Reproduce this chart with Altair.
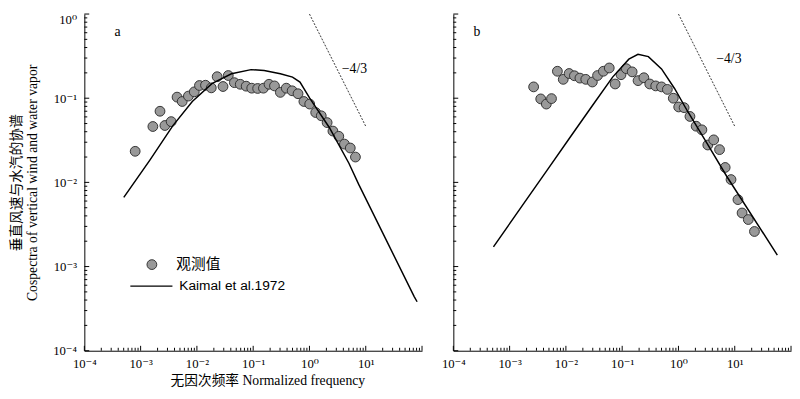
import altair as alt
import pandas as pd

# ---------------- data ----------------
# Panel a: observed cospectrum
a_freq = [8.0e-4, 1.65e-3, 2.21e-3, 2.70e-3, 3.49e-3, 4.44e-3, 5.48e-3, 7.06e-3, 8.97e-3,
          0.0111, 0.0142, 0.0180, 0.0229, 0.0291, 0.0361, 0.0463, 0.0589, 0.0750, 0.0942,
          0.120, 0.152, 0.191, 0.239, 0.304, 0.387, 0.492, 0.626, 0.796, 1.01, 1.29, 1.62,
          2.06, 2.61, 3.32, 4.18, 5.31, 6.56]
a_co = [0.0234, 0.0461, 0.0700, 0.0474, 0.0527, 0.103, 0.0914, 0.106, 0.119,
        0.1415, 0.1426, 0.1327, 0.180, 0.1377, 0.186, 0.153, 0.1464, 0.139, 0.1316,
        0.1305, 0.1316, 0.1464, 0.140, 0.1173, 0.1316, 0.1225, 0.113, 0.0914, 0.0852, 0.0676, 0.0618,
        0.0513, 0.0407, 0.0353, 0.0285, 0.0256, 0.0200]
# Panel a: Kaimal et al. 1972 curve
a_kx = [5.02e-4, 1.46e-3, 3.72e-3, 8.28e-3, 0.01845, 0.0411, 0.0917, 0.1567, 0.304, 0.500,
        0.678, 1.01, 2.25, 5.02, 7.50, 72.6, 81.8]
a_ky = [6.64e-3, 0.0184, 0.0469, 0.0914, 0.149, 0.195, 0.2186, 0.213, 0.195, 0.178,
        0.1557, 0.100, 0.0449, 0.01687, 9.46e-3, 4.40e-4, 3.82e-4]

# Panel b: observed cospectrum
b_freq = [2.67e-3, 3.57e-3, 4.49e-3, 5.55e-3, 7.06e-3, 8.97e-3, 0.0114, 0.01416, 0.01774,
          0.02254, 0.0295, 0.0365, 0.0463, 0.0589, 0.0750, 0.0953, 0.1183, 0.1503, 0.1914,
          0.243, 0.309, 0.394, 0.500, 0.635, 0.809, 1.01, 1.26, 1.60, 2.06, 2.61, 3.32,
          4.23, 5.37, 6.76, 8.59, 11.4, 13.5, 17.4, 22.4]
b_co = [0.1363, 0.0981, 0.0852, 0.0989, 0.209, 0.1675, 0.1965, 0.1848, 0.1733,
        0.1675, 0.1557, 0.186, 0.209, 0.2287, 0.1476, 0.190, 0.2244, 0.2056, 0.1617,
        0.175, 0.1476, 0.140, 0.1363, 0.1272, 0.100, 0.0787, 0.0772, 0.0607, 0.0465, 0.0421, 0.0278,
        0.0320, 0.0245, 0.01504, 0.0108, 6.24e-3, 4.33e-3, 3.62e-3, 2.61e-3]
# Panel b: Kaimal et al. 1972 curve
b_kx = [5.16e-4, 1.84e-3, 4.68e-3, 0.01189, 0.0303, 0.0676, 0.1313, 0.191, 0.292, 0.500,
        0.851, 1.45, 3.24, 7.19, 57.1]
b_ky = [1.71e-3, 5.80e-3, 0.0141, 0.0344, 0.0836, 0.178, 0.291, 0.332, 0.312, 0.223,
        0.1305, 0.070, 0.0288, 0.01183, 1.37e-3]

# -4/3 reference slope line and its label
slope_x = [1.0, 10.0]
slope_y = [1.0, 0.0464]
slope_label = "\u22124/3"
a_label_pos = [6.3, 0.223]
b_label_pos = [7.87, 0.29]

panel_letters = ["a", "b"]
legend_labels = ["观测值", "Kaimal et al.1972"]
y_title = ["垂直风速与水汽的协谱", "Cospectra of vertical wind and water vapor"]
x_title = "无因次频率 Normalized frequency"

# decades labelled on each axis
x_exps = [-4, -3, -2, -1, 0, 1]
y_exps = [-4, -3, -2, -1, 0]

# ---------------- styling ----------------
SERIF = "'Liberation Serif', 'DejaVu Serif'"
CJK = "'Liberation Serif', 'Noto Sans CJK SC'"
W, H = 345, 344
MAJ, MIN = 5, 3

sup = {-4: "⁻⁴", -3: "⁻³", -2: "⁻²", -1: "⁻¹", 0: "⁰", 1: "¹"}


def label_expr(exps):
    s = ""
    for k in exps:
        v = 10.0 ** k
        s += f"abs(datum.value - {v}) < {v * 1e-6} ? '10{sup[k]}' : "
    return s + "''"


x_major = [10.0 ** k for k in range(-4, 3)]
x_minor = [m * 10.0 ** k for k in range(-4, 2) for m in range(2, 10)]
y_major = [10.0 ** k for k in range(-4, 1)]
y_minor = [m * 10.0 ** k for k in range(-4, 0) for m in range(2, 10)]

common_axis = dict(
    grid=False, domainColor="black", domainWidth=1, ticks=False,
    labelFont=SERIF, labelFontSize=13, labelColor="black",
    labelFlush=False, labelOverlap=False,
)


def x_axis(with_title):
    kw = dict(common_axis)
    kw.update(values=[10.0 ** k for k in x_exps], labelExpr=label_expr(x_exps), labelPadding=7)
    if with_title:
        kw.update(title=x_title, titleFont=CJK, titleFontSize=14, titleFontWeight="normal",
                  titleColor="black", titleX=187, titleY=31, titleBaseline="middle",
                  titleAlign="center")
    else:
        kw.update(title=None)
    return alt.Axis(**kw)


def y_axis(with_labels):
    kw = dict(common_axis)
    kw.update(values=[10.0 ** k for k in y_exps], labelPadding=8,
              labelBaseline={"condition": {"test": "datum.value > 0.5", "value": "top"},
                             "value": "middle"})
    if with_labels:
        kw.update(labelExpr=label_expr(y_exps), title=y_title, titleFont=CJK, titleFontSize=14,
                  titleFontWeight="normal", titleColor="black", titleX=-76, titleY=H / 2,
                  titleBaseline="top", titleAlign="center", titleAngle=-90, titleLineHeight=16)
    else:
        kw.update(labels=False, title=None)
    return alt.Axis(**kw)


def panel(fx, fy, kx, ky, lab_pos, letter, first):
    xs = alt.Scale(type="log", domain=[1e-4, 100])
    ys = alt.Scale(type="log", domain=[1e-4, 1])
    X = alt.X("f:Q", scale=xs, axis=x_axis(first))
    Y = alt.Y("c:Q", scale=ys, axis=y_axis(first))

    obs = alt.Chart(pd.DataFrame({"f": fx, "c": fy})).mark_circle(
        size=100, color="#999999", stroke="#333333", strokeWidth=1, opacity=1
    ).encode(x=X, y=Y)
    curve = alt.Chart(pd.DataFrame({"f": kx, "c": ky})).mark_line(
        color="black", strokeWidth=1.5
    ).encode(x=X, y=Y)
    slope = alt.Chart(pd.DataFrame({"f": slope_x, "c": slope_y})).mark_line(
        color="black", strokeWidth=0.8, strokeDash=[2, 1.5]
    ).encode(x=X, y=Y)
    slab = alt.Chart(pd.DataFrame({"f": [lab_pos[0]], "c": [lab_pos[1]], "t": [slope_label]})).mark_text(
        font=SERIF, fontSize=14, color="black", align="center", baseline="middle"
    ).encode(x=X, y=Y, text="t:N")
    let = alt.Chart(pd.DataFrame({"t": [letter]})).mark_text(
        font=SERIF, fontSize=14, color="black", align="center", baseline="middle"
    ).encode(x=alt.value(34 if first else 24), y=alt.value(18), text="t:N")

    # inward tick marks placed through the same log scales
    def xticks(vals, ln):
        return alt.Chart(pd.DataFrame({"f": vals})).mark_rule(color="black", strokeWidth=1).encode(
            x=X, y=alt.value(H), y2=alt.value(H - ln))

    def yticks(vals, ln):
        return alt.Chart(pd.DataFrame({"c": vals})).mark_rule(color="black", strokeWidth=1).encode(
            y=Y, x=alt.value(0), x2=alt.value(ln))

    ticks = [xticks(x_major, MAJ), xticks(x_minor, MIN), yticks(y_major, MAJ), yticks(y_minor, MIN)]

    layers = [obs, slope, slab, let, curve] + ticks
    if first:
        leg_pt = alt.Chart(pd.DataFrame({"k": [0]})).mark_circle(
            size=100, color="#999999", stroke="#333333", strokeWidth=1, opacity=1
        ).encode(x=alt.value(69), y=alt.value(256))
        leg_t1 = alt.Chart(pd.DataFrame({"t": [legend_labels[0]]})).mark_text(
            font="'Noto Sans CJK SC'", fontSize=15, color="black", align="left", baseline="middle"
        ).encode(x=alt.value(94), y=alt.value(256), text="t:N")
        leg_ln = alt.Chart(pd.DataFrame({"k": [0]})).mark_rule(
            color="black", strokeWidth=1.2
        ).encode(x=alt.value(47), x2=alt.value(90), y=alt.value(278))
        leg_t2 = alt.Chart(pd.DataFrame({"t": [legend_labels[1]]})).mark_text(
            font="'Liberation Sans'", fontSize=14, color="black", align="left", baseline="middle"
        ).encode(x=alt.value(97), y=alt.value(278), text="t:N")
        layers += [leg_pt, leg_t1, leg_ln, leg_t2]
    return alt.layer(*layers).properties(width=W, height=H)


pa = panel(a_freq, a_co, a_kx, a_ky, a_label_pos, panel_letters[0], True)
pb = panel(b_freq, b_co, b_kx, b_ky, b_label_pos, panel_letters[1], False)

chart = alt.hconcat(pa, pb, spacing=32, bounds="flush").properties(
    padding={"left": 2, "top": 0, "right": 0, "bottom": 0}
).configure(background="white").configure_view(stroke=None)

chart.save("out.html", embed_options={"renderer": "svg", "actions": False})
